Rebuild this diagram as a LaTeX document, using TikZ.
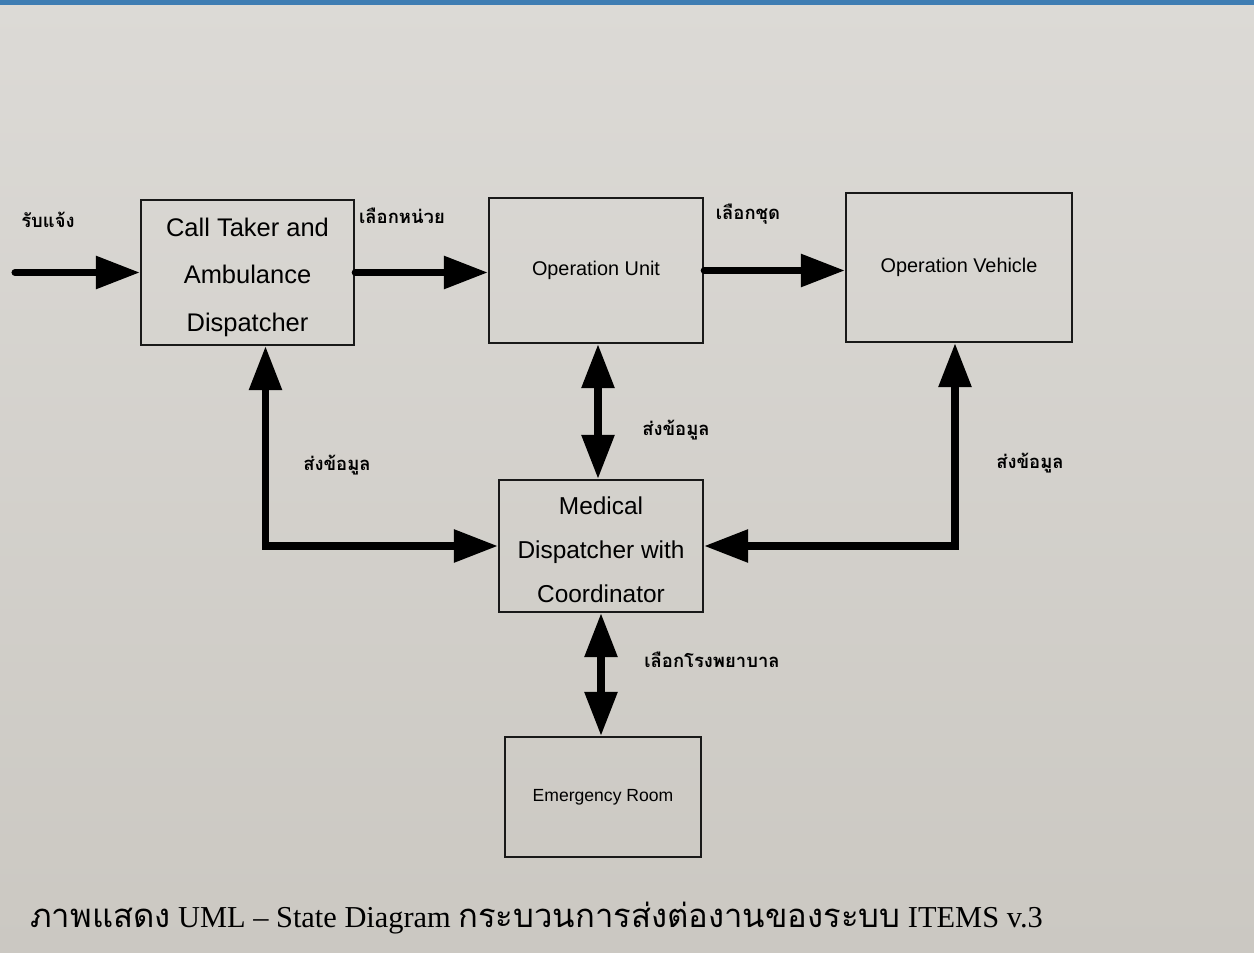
\documentclass[tikz,border=0pt]{standalone}
\usepackage{fontspec}
\setmainfont{Liberation Serif}
\newfontfamily\boxfont{Liberation Sans}
\newfontfamily\thaifont[Script=Thai]{Loma}
\newfontfamily\thaicap[Script=Thai,Scale=1.08]{Loma}
\usetikzlibrary{arrows.meta}

\definecolor{paper}{HTML}{DCDAD6}
\definecolor{paperdark}{HTML}{CBC8C2}
\definecolor{topbar}{HTML}{3F7DB3}

\tikzset{
  statebox/.style={draw=black!90, line width=1.4pt, align=center, inner sep=0pt},
  flow/.style={line width=4pt, line cap=round, -{Triangle[length=25pt,width=18pt]}},
  twoway/.style={line width=4pt, {Triangle[length=25pt,width=18pt]}-{Triangle[length=25pt,width=18pt]}},
  lbl/.style={font=\thaifont\bfseries\fontsize{10.5}{12}\selectfont, text=black}
}

\begin{document}
\begin{tikzpicture}[x=0.02cm, y=-0.02cm]
    % paper
    \shade[top color=paper, bottom color=paperdark] (0,0) rectangle (1254,953);
    \fill[topbar] (0,0) rectangle (1254,5);
    \useasboundingbox (0,0) rectangle (1254,953);

    % states
    \node[statebox, minimum width=4.26cm, minimum height=2.9cm,
          font=\boxfont\fontsize{14.5}{27}\selectfont] (call) at (247.5,272.5)
          {\rule{0pt}{16pt}Call Taker and\\Ambulance\\Dispatcher};
    \node[statebox, minimum width=4.28cm, minimum height=2.9cm,
          font=\boxfont\fontsize{11.3}{14}\selectfont] (unit) at (596,270.5) {Operation Unit};
    \node[statebox, minimum width=4.52cm, minimum height=2.98cm,
          font=\boxfont\fontsize{11.3}{14}\selectfont] (vehicle) at (959,267.5) {Operation Vehicle};
    \node[statebox, minimum width=4.08cm, minimum height=2.64cm,
          font=\boxfont\fontsize{13.9}{25}\selectfont] (med) at (601,546)
          {\rule{0pt}{14.6pt}Medical\\Dispatcher with\\Coordinator};
    \node[statebox, minimum width=3.92cm, minimum height=2.4cm,
          font=\boxfont\fontsize{10}{12}\selectfont] (er) at (603,797) {Emergency Room};

    % transitions
    \coordinate (start) at (15,272.5);
    \draw[flow] (start) -- (call.west);
    \draw[flow] (call.east) -- (call.east -| unit.west);
    \draw[flow] (unit.east) -- (unit.east -| vehicle.west);
    \draw[twoway] ([xshift=0.04cm]unit.south) -- ([xshift=0.04cm]unit.south |- med.north);
    \draw[twoway] ([xshift=0.36cm]call.south) |- (med.west);
    \draw[twoway] ([xshift=-0.08cm]vehicle.south) |- (med.east);
    \draw[twoway] (med.south) -- (med.south |- er.north);

    % labels
    \node[lbl] (l1) at (48,220) {รับแจ้ง};
    \node[lbl] (l2) at (402,216) {เลือกหน่วย};
    \node[lbl] (l3) at (748,214) {เลือกชุด};
    \node[lbl] (l4) at (337,465) {ส่งข้อมูล};
    \node[lbl] (l5) at (676,430) {ส่งข้อมูล};
    \node[lbl] (l6) at (1030,463) {ส่งข้อมูล};
    \node[lbl] (l7) at (712,660) {เลือกโรงพยาบาล};

    % caption
    \node[anchor=west, inner sep=0pt, font=\fontsize{17.3}{20}\selectfont] (caption) at (30,918)
      {{\thaicap ภาพแสดง} UML -- State Diagram {\thaicap กระบวนการส่งต่องานของระบบ} ITEMS v.3};
\end{tikzpicture}
\end{document}
